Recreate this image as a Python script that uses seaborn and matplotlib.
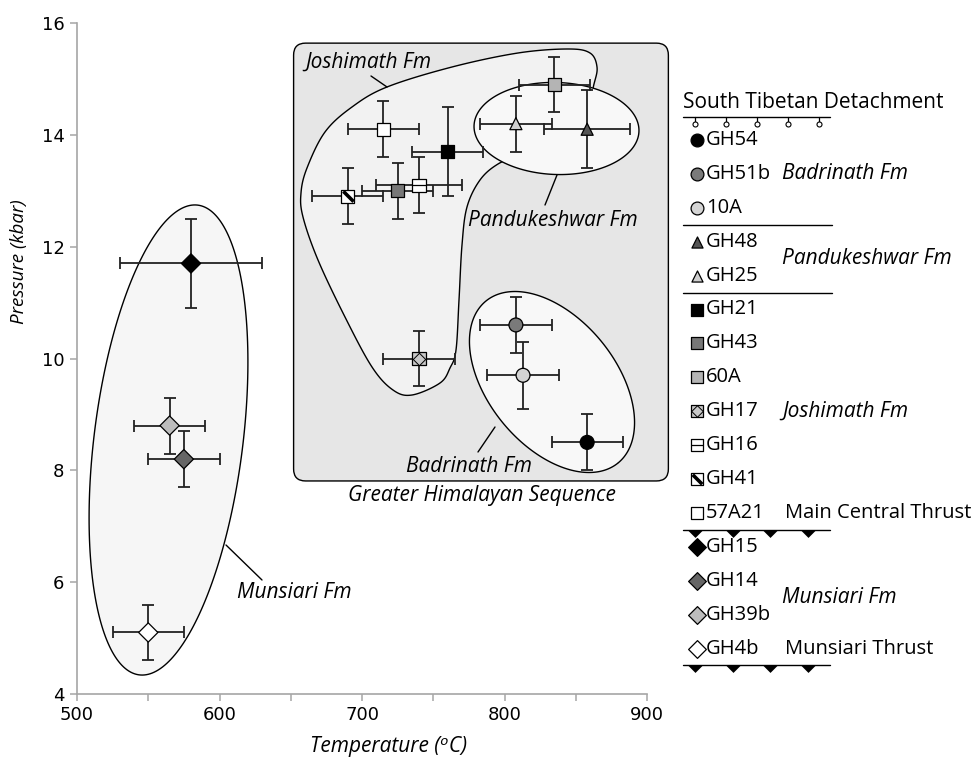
import numpy as np
import pandas as pd
import seaborn as sns
import matplotlib.pyplot as plt
from matplotlib.patches import FancyBboxPatch, Polygon
from matplotlib import ticker

# ---- data ----
samples = ['GH54', 'GH51b', '10A', 'GH48', 'GH25', 'GH21', 'GH43', '60A',
           'GH17', 'GH16', 'GH41', '57A21', 'GH15', 'GH14', 'GH39b', 'GH4b']
temps = [858, 808, 813, 858, 808, 760, 725, 835, 740, 740, 690, 715, 580, 575, 565, 550]
press = [8.5, 10.6, 9.7, 14.1, 14.2, 13.7, 13.0, 14.9, 10.0, 13.1, 12.9, 14.1, 11.7, 8.2, 8.8, 5.1]
temp_err = [25, 25, 25, 30, 25, 25, 25, 25, 25, 30, 25, 25, 50, 25, 25, 25]
press_err = [0.5, 0.5, 0.6, 0.7, 0.5, 0.8, 0.5, 0.5, 0.5, 0.5, 0.5, 0.5, 0.8, 0.5, 0.5, 0.5]
units = ['Badrinath Fm'] * 3 + ['Pandukeshwar Fm'] * 2 + ['Joshimath Fm'] * 7 + ['Munsiari Fm'] * 4

markers = ['o', 'o', 'o', '^', '^', 's', 's', 's', 's', 's', 's', 's', 'D', 'D', 'D', 'D']
fills = ['#000000', '#7a7a7a', '#d4d4d4', '#555555', '#cfcfcf', '#000000', '#777777', '#b4b4b4',
         '#c8c8c8', '#ffffff', '#ffffff', '#ffffff', '#000000', '#666666', '#bcbcbc', '#ffffff']
msize = {'o': 100, '^': 75, 's': 88, 'D': 96}

df = pd.DataFrame({'sample': samples, 'T': temps, 'P': press,
                   'Terr': temp_err, 'Perr': press_err, 'unit': units})

# ---- figure geometry ----
W, H = 975, 757
AX_L, AX_R, AX_T, AX_B = 77, 647, 23, 694
PX_T = (AX_R - AX_L) / 400.0   # px per degC
PX_P = (AX_B - AX_T) / 12.0    # px per kbar


def px2data(x, y):
    x = np.asarray(x, float)
    y = np.asarray(y, float)
    return 500 + (x - AX_L) / PX_T, 16 - (y - AX_T) / PX_P


def ellipse_pts(cx, cy, a, b, ang, n=240):
    # ellipse defined in pixel space (y down), angle in screen degrees (y up)
    t = np.linspace(0, 2 * np.pi, n)
    phi = np.deg2rad(ang)
    dx = a * np.cos(t) * np.cos(phi) - b * np.sin(t) * np.sin(phi)
    dy = a * np.cos(t) * np.sin(phi) + b * np.sin(t) * np.cos(phi)
    tx, py = px2data(cx + dx, cy - dy)
    return np.column_stack([tx, py])


def smooth_closed(pts, n=24):
    p = np.asarray(pts, float)
    k = len(p)
    out = []
    t = np.linspace(0, 1, n, endpoint=False)[:, None]
    for i in range(k):
        p0, p1, p2, p3 = p[i - 1], p[i], p[(i + 1) % k], p[(i + 2) % k]
        out.append(0.5 * (2 * p1 + (-p0 + p2) * t + (2 * p0 - 5 * p1 + 4 * p2 - p3) * t ** 2
                          + (-p0 + 3 * p1 - 3 * p2 + p3) * t ** 3))
    return np.vstack(out)


sns.set_theme(style='white')
plt.rcParams['font.family'] = ['Open Sans', 'DejaVu Sans']
plt.rcParams['text.color'] = 'black'
plt.rcParams['axes.labelcolor'] = 'black'

fig = plt.figure(figsize=(W / 100, H / 100), dpi=100)
ax = fig.add_axes([AX_L / W, 1 - AX_B / H, (AX_R - AX_L) / W, (AX_B - AX_T) / H])
ax.set_xlim(500, 900)
ax.set_ylim(4, 16)

# ---- grouping shapes ----
box = FancyBboxPatch((652, 7.81), 915 - 652, 15.64 - 7.81,
                     boxstyle='round,pad=0,rounding_size=8.4', mutation_aspect=PX_T / PX_P,
                     fc='#e6e6e6', ec='black', lw=1.0, clip_on=False, zorder=1)
ax.add_patch(box)

josh_px = [(387, 87), (452, 67), (518, 53), (568, 49), (590, 53), (597, 67), (594, 84),
           (586, 110), (560, 138), (522, 154), (498, 164), (480, 180), (467, 207),
           (462, 245), (459, 300), (456, 350), (450, 368), (440, 383), (412, 395),
           (393, 390), (372, 367), (345, 317), (318, 260), (303, 217), (301, 193),
           (307, 168), (325, 132), (352, 107)]
jp = smooth_closed(josh_px)
jt, jpv = px2data(jp[:, 0], jp[:, 1])
ax.add_patch(Polygon(np.column_stack([jt, jpv]), closed=True, fc='#f2f2f2', ec='black',
                     lw=1.0, zorder=2))
ax.add_patch(Polygon(ellipse_pts(556.5, 128.5, 82.5, 46, -2), closed=True, fc='#f8f8f8',
                     ec='black', lw=1.0, zorder=3))
ax.add_patch(Polygon(ellipse_pts(552, 382, 104.5, 63.9, -50.8), closed=True, fc='#f8f8f8',
                     ec='black', lw=1.0, zorder=3))
ax.add_patch(Polygon(ellipse_pts(168.5, 440, 236.7, 74.4, 82.9), closed=True, fc='#f6f6f6',
                     ec='black', lw=1.0, zorder=2, clip_on=False))

# ---- error bars and points ----
ax.errorbar(df['T'], df['P'], xerr=df['Terr'], yerr=df['Perr'], fmt='none',
            ecolor='#222222', elinewidth=1.3, capsize=4, capthick=1.3, zorder=4)
sns.scatterplot(data=df, x='T', y='P', hue='sample', style='sample', size='sample',
                palette=dict(zip(samples, fills)), markers=dict(zip(samples, markers)),
                sizes={s: msize[m] for s, m in zip(samples, markers)},
                edgecolor='black', linewidth=0.9, legend=False, zorder=5, ax=ax)


def overlay(a, x, y, name, scale=1.0):
    if name == 'GH17':
        a.scatter(x, y, marker='D', s=40 * scale, fc='#c8c8c8', ec='black', lw=0.7, zorder=6)
    elif name == 'GH16':
        a.scatter(x, y, marker='_', s=88 * scale, color='black', lw=0.9, zorder=6)
    elif name == 'GH41':
        a.scatter(x, y, marker=[(-0.5, 0.5), (0.5, -0.5)], s=55 * scale, color='black',
                  lw=2.6, zorder=6)


for s in ['GH17', 'GH16', 'GH41']:
    row = df[df['sample'] == s].iloc[0]
    overlay(ax, row['T'], row['P'], s)

# ---- axes styling ----
sns.despine(ax=ax)
for sp in ['left', 'bottom']:
    ax.spines[sp].set_color('#a6a6a6')
    ax.spines[sp].set_linewidth(1.2)
ax.xaxis.set_major_locator(ticker.MultipleLocator(100))
ax.xaxis.set_minor_locator(ticker.MultipleLocator(50))
ax.yaxis.set_major_locator(ticker.MultipleLocator(2))
ax.tick_params(axis='both', which='both', direction='out', length=5, width=1.1,
               color='#a6a6a6', bottom=True, left=True)
ax.tick_params(axis='both', which='major', labelsize=13, pad=4, labelcolor='black')
for lab in ax.get_xticklabels() + ax.get_yticklabels():
    lab.set_family('DejaVu Sans')
ax.set_xlabel('Temperature (\u1d52C)', fontsize=15, style='italic')
ax.set_ylabel('Pressure (kbar)', fontsize=13.5, style='italic')
ax.xaxis.set_label_coords(0.547, -0.062)
ax.yaxis.set_label_coords(-0.086, 0.645)

# ---- overlay in pixel coordinates for labels and legend ----
lg = fig.add_axes([0, 0, 1, 1])
lg.set_xlim(0, W)
lg.set_ylim(H, 0)
lg.axis('off')
lg.patch.set_alpha(0)

ann_kw = dict(fontsize=15, style='italic', va='center', color='black')
lg.text(305, 62, 'Joshimath Fm', **ann_kw)
lg.plot([371, 387], [76, 87], color='black', lw=1)
lg.text(468, 220, 'Pandukeshwar Fm', **ann_kw)
lg.plot([557, 545], [175, 205], color='black', lw=1)
lg.text(406, 467, 'Badrinath Fm', **ann_kw)
lg.plot([495, 478], [427, 452], color='black', lw=1)
lg.text(237, 593, 'Munsiari Fm', **ann_kw)
lg.plot([226, 262], [545, 580], color='black', lw=1)
lg.text(482, 496, 'Greater Himalayan Sequence', ha='center', **ann_kw)

# legend rows
ROW0, DROW = 140, 33.9
MX, TX = 697, 706
LX0, LX1 = 683, 832
rows = [ROW0 + i * DROW for i in range(len(samples))]
for i, s in enumerate(samples):
    y = rows[i]
    lg.scatter(MX, y, marker=markers[i], s=msize[markers[i]] * 0.85, fc=fills[i],
               ec='black', lw=0.9, zorder=5)
    overlay(lg, MX, y, s, scale=0.85)
    lg.text(TX, y, s, fontsize=14.5, va='center')

lg.text(683, 102, 'South Tibetan Detachment', fontsize=15, va='center')
lg.plot([LX0, LX1 - 2], [117, 117], color='black', lw=1)
lolly_x = [695, 726, 757, 788, 819]
for lx in lolly_x:
    lg.plot([lx, lx], [117, 122], color='black', lw=0.9)
lg.scatter(lolly_x, [124] * len(lolly_x), s=13, fc='white', ec='black', lw=0.8, zorder=5)

sep_after = [2, 4]
for k in sep_after:
    yy = (rows[k] + rows[k + 1]) / 2
    lg.plot([LX0, LX1], [yy, yy], color='black', lw=1)

tri = [(-1, 0), (1, 0), (0, -1.0)]
thrust_x = [695, 733, 770, 808]
for k in [11, 15]:
    yy = rows[k] + DROW / 2
    lg.plot([LX0, LX1 - 2], [yy, yy], color='black', lw=1)
    lg.scatter(thrust_x, [yy] * 4, marker=tri, s=115, color='black', lw=0, zorder=5)

grp_kw = dict(fontsize=15, style='italic', va='center')
lg.text(782, rows[1], 'Badrinath Fm', **grp_kw)
lg.text(782, (rows[3] + rows[4]) / 2, 'Pandukeshwar Fm', **grp_kw)
lg.text(782, rows[8], 'Joshimath Fm', **grp_kw)
lg.text(785, rows[11], 'Main Central Thrust', fontsize=14.5, va='center')
lg.text(782, (rows[13] + rows[14]) / 2, 'Munsiari Fm', **grp_kw)
lg.text(785, rows[15], 'Munsiari Thrust', fontsize=14.5, va='center')

fig.savefig('out.png', dpi=100)
